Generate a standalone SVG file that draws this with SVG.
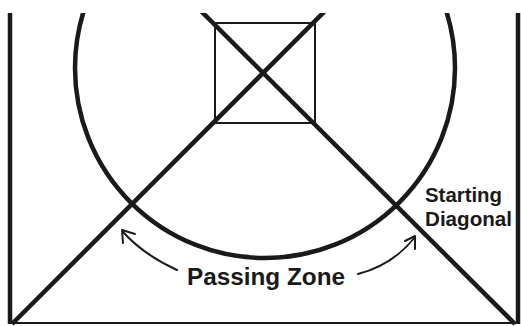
<svg xmlns="http://www.w3.org/2000/svg" width="521" height="326" viewBox="0 0 521 326">
<style>
.thick{fill:none;stroke:#1a1a1a;stroke-width:4.5}
.thin{fill:none;stroke:#1a1a1a;stroke-width:2}
.arr{fill:none;stroke:#1a1a1a;stroke-width:2;stroke-linecap:round;stroke-linejoin:round}
.lbl{font-family:"Liberation Sans",Arial,sans-serif;font-weight:bold;fill:#1a1a1a}
</style>
<defs>
<clipPath id="clip"><rect x="0" y="13" width="521" height="313"/></clipPath>
</defs>
<rect width="521" height="326" fill="#fff"/>
<g id="court" clip-path="url(#clip)">
<line class="thick" x1="10" y1="13" x2="10" y2="324"/>
<line class="thick" x1="518" y1="13" x2="518" y2="324"/>
<line class="thin" x1="9" y1="323" x2="519" y2="323"/>
<circle id="circle" class="thick" cx="265" cy="68" r="190"/>
<rect id="box" class="thin" x="215" y="23" width="100" height="100"/>
<line id="diag1" class="thick" x1="12" y1="324" x2="327" y2="9"/>
<line id="diag2" class="thick" x1="199" y1="9" x2="515" y2="324"/>
</g>
<g id="connectors">
<path class="arr" d="M177,270 Q144,255 123,232"/>
<path class="arr" d="M123,243 L122,230 L135,234"/>
<path class="arr" d="M358,274 Q393,265 415,237"/>
<path class="arr" d="M405,241 L415,236 L415,249"/>
</g>
<g id="labels">
<text class="lbl" x="425" y="202" font-size="19.5" textLength="77" lengthAdjust="spacingAndGlyphs">Starting</text>
<text class="lbl" x="425" y="226" font-size="19.5" textLength="87" lengthAdjust="spacingAndGlyphs">Diagonal</text>
<text class="lbl" x="187" y="285" font-size="23" textLength="158" lengthAdjust="spacingAndGlyphs">Passing Zone</text>
</g>
</svg>
